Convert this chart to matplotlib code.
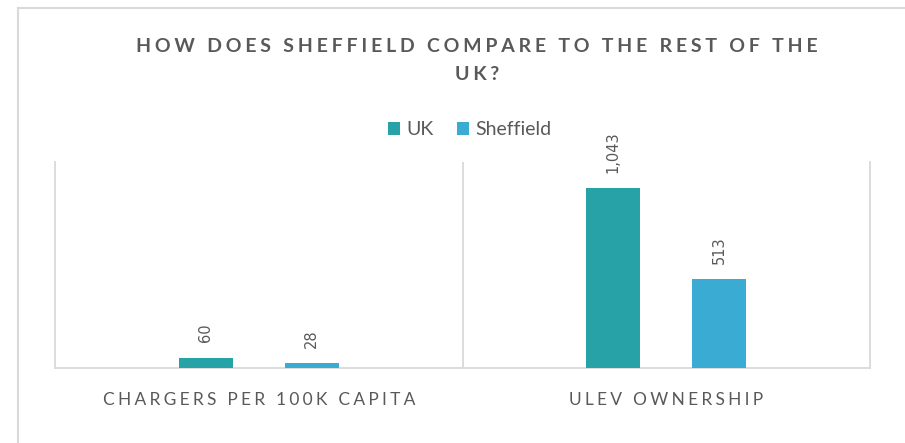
import numpy as np
import matplotlib.pyplot as plt
from matplotlib.lines import Line2D

plt.rcParams['font.family'] = ['Lato', 'DejaVu Sans']

categories = ['CHARGERS PER 100K CAPITA', 'ULEV OWNERSHIP']
series_names = ['UK', 'Sheffield']
uk_values = [60, 1043]
sheffield_values = [28, 513]
value_labels = [['60', '1,043'], ['28', '513']]

colors = ['#27A3A8', '#3AABD3']
grid_col = '#D9D9D9'
text_col = '#595959'


def spaced(s, sep='\u200a'):
    # fake letter spacing with thin/hair spaces
    return sep.join(s)


fig = plt.figure(figsize=(9.05, 4.43), dpi=100)
ax = fig.add_axes([55 / 905, 75 / 443, 815 / 905, 206 / 443])

x = np.arange(len(categories))
w = 0.133
off = 0.13
for i, (vals, name) in enumerate(zip([uk_values, sheffield_values], series_names)):
    pos = x + (-off if i == 0 else off)
    bars = ax.bar(pos, vals, width=w, color=colors[i], label=name, zorder=3)
    for b, lab in zip(bars, value_labels[i]):
        ax.annotate(lab, (b.get_x() + b.get_width() / 2, b.get_height()),
                    xytext=(0, 11), textcoords='offset points',
                    rotation=90, ha='center', va='bottom', fontsize=10.5,
                    color=text_col, family=['DejaVu Sans'])

ax.set_xlim(-0.5, 1.5)
ax.set_ylim(0, 1194)
ax.set_yticks([])
ax.set_xticks(x)
ax.set_xticklabels([spaced(c, '\u2009\u200a') for c in categories], fontsize=12.5,
                   color=text_col)
ax.tick_params(axis='x', length=0, pad=17)

# category separators
ax.axvline(0.5, color=grid_col, lw=1.3, zorder=1)
for side in ['left', 'right', 'bottom']:
    ax.spines[side].set_color(grid_col)
    ax.spines[side].set_linewidth(1.3)
ax.spines['top'].set_visible(False)

leg = ax.legend(loc='lower center', bbox_to_anchor=(0.509, 1.03), ncol=2, frameon=False,
                fontsize=14, handlelength=0.6, handleheight=0.6, handletextpad=0.35,
                columnspacing=1.2, labelcolor=text_col)

fig.text(0.527, 1 - 46 / 443, spaced('HOW DOES SHEFFIELD COMPARE TO THE REST OF THE', '\u2009\u200a'),
         ha='center', va='center', fontsize=14, fontweight='bold', color=text_col)
fig.text(0.527, 1 - 75 / 443, spaced('UK?', '\u2009\u200a'),
         ha='center', va='center', fontsize=14, fontweight='bold', color=text_col)

# chart frame
fig.add_artist(Line2D([18 / 905, 18 / 905], [0, 1 - 8 / 443], color=grid_col, lw=1.5))
fig.add_artist(Line2D([18 / 905, 1], [1 - 8 / 443, 1 - 8 / 443], color=grid_col, lw=1.5))

fig.savefig('out.png', dpi=100)
